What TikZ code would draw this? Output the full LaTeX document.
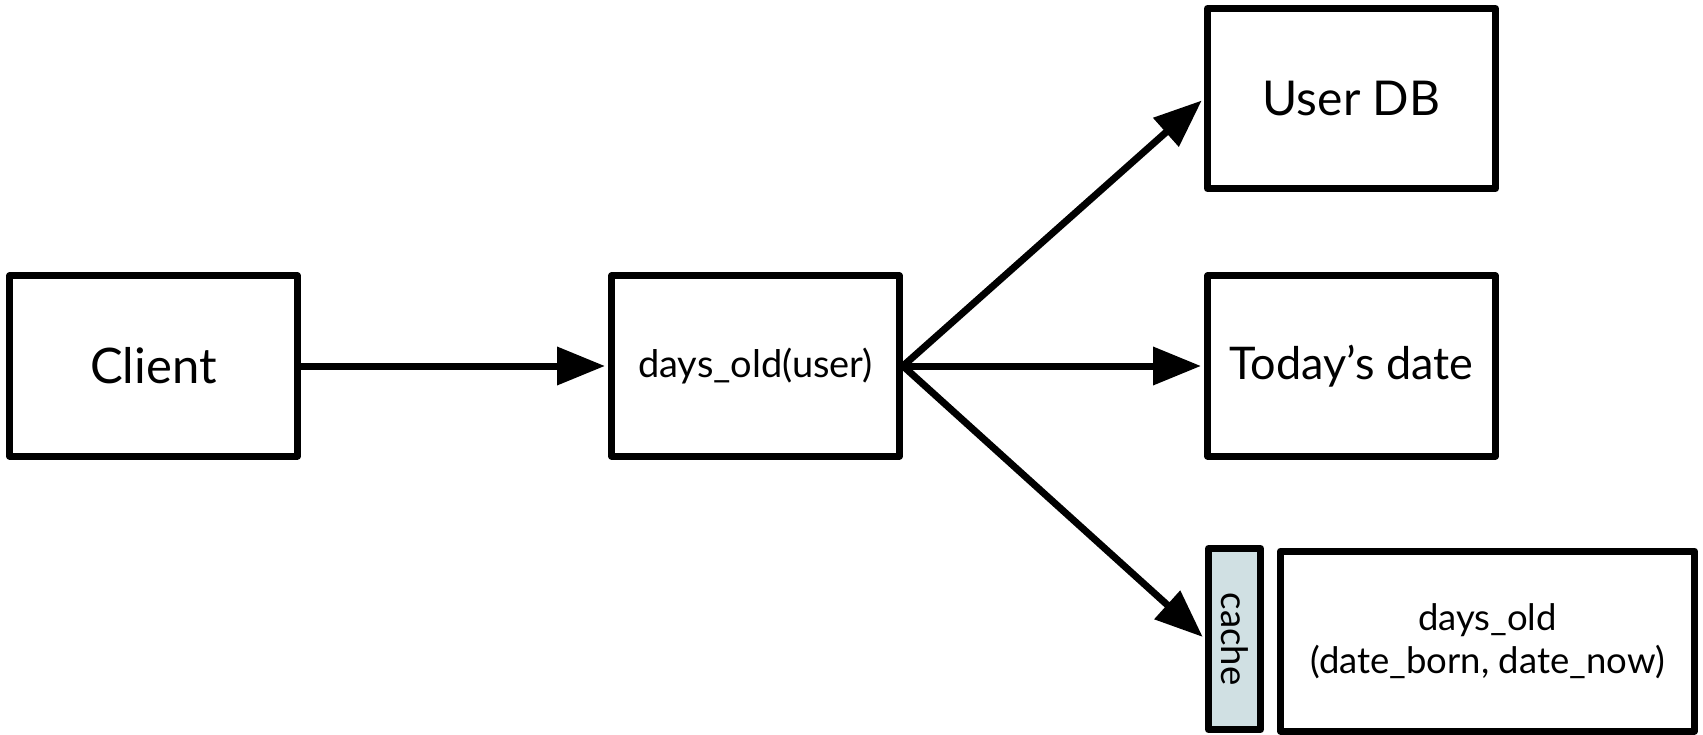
\documentclass[tikz,border=0pt]{standalone}
\usepackage{fontspec}
\setmainfont{Lato}
\usetikzlibrary{arrows.meta}
\definecolor{cachefill}{HTML}{D0E0E3}

\begin{document}
\begin{tikzpicture}[x=1pt, y=-1pt, line width=7pt,
    box/.style={draw, line join=round, minimum width=288pt, minimum height=180pt, inner sep=0pt, align=center},
    big/.style={font=\fontsize{48}{57}\selectfont},
    small/.style={font=\fontsize{36.5}{43}\selectfont},
    link/.style={-{Triangle[length=48pt,width=37pt]}, shorten >=3pt}]
  \useasboundingbox (0,0) rectangle (1703,735);

  \node[box, big, font=\fontsize{49}{57}\selectfont] (client) at (153.5,366) {Client};
  \node[box, small, font=\fontsize{38}{45}\selectfont] (user) at (755.5,366) {days\_old(user)};
  \node[box, big] (userdb) at (1351.5,98.5) {User DB};
  \node[box, big, font=\fontsize{45}{55}\selectfont] (today) at (1351.5,366) {Today’s date};
  \node[box, small, fill=cachefill, minimum width=52pt, minimum height=181pt] (cache) at (1234.5,639) {};
  \node[small, rotate=-90] (cachetext) at (cache.center) {cache};
  \node[box, small, minimum width=414pt] (calc) at (1487.5,641) {days\_old\\(date\_born, date\_now)};

  \draw[link] (client) -- (user);
  \draw[link] (user.east) -- (userdb.west);
  \draw[link] (user.east) -- (today.west);
  \draw[link] (user.east) -- (cache.west);
\end{tikzpicture}
\end{document}
